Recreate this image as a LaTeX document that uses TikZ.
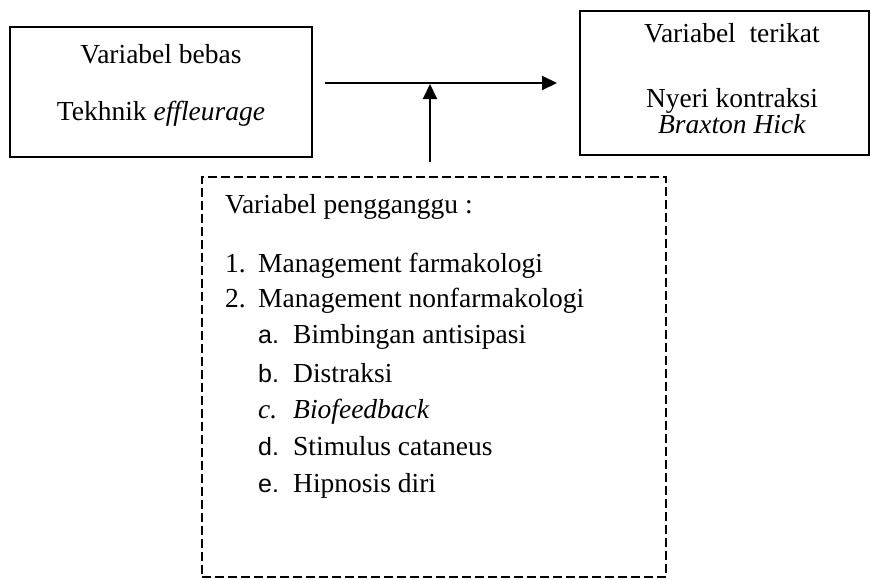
\documentclass[tikz,border=0pt]{standalone}
\usepackage{fontspec}
\setmainfont{Liberation Serif}
\newfontfamily\lblsans{Liberation Sans}
\usetikzlibrary{arrows.meta}
\tikzset{
  solidbox/.style={draw, line width=2pt, rectangle, inner sep=0pt},
  dashbox/.style={draw, line width=1.8pt, dash pattern=on 9pt off 4pt, rectangle, inner sep=0pt},
  txt/.style={inner sep=0pt, font=\fontsize{27.5}{32}\selectfont},
  ctxt/.style={txt, anchor=base},
  ltxt/.style={txt, anchor=base west},
  conn/.style={line width=2pt, -{Triangle[length=15pt,width=14pt]}},
}
\newcommand{\sansnum}[1]{{\lblsans\fontsize{25}{30}\selectfont #1}}
\begin{document}
\begin{tikzpicture}[x=1pt,y=-1pt]
\useasboundingbox (0,0) rectangle (871,579);
% boxes
\node[solidbox, minimum width=302pt, minimum height=130pt] (bebas) at (161,92) {};
\node[solidbox, minimum width=289pt, minimum height=144pt] (terikat) at (724.5,83) {};
\node[dashbox, minimum width=464pt, minimum height=400pt] (ganggu) at (434,377) {};
% box texts
\node[ctxt] (b1) at (161,63) {Variabel bebas};
\node[ctxt] (b2) at (161,120) {Tekhnik \textit{effleurage}};
\node[ctxt] (t1) at (732,42) {Variabel\ \ terikat};
\node[ctxt] (t2) at (732,107) {Nyeri kontraksi};
\node[ctxt] (t3) at (732,133) {\textit{Braxton Hick}};
% list
\node[ltxt] (g0) at (225,213) {Variabel pengganggu :};
\node[ltxt] (n1) at (225,272) {1.};
\node[ltxt] (i1) at (258,272) {Management farmakologi};
\node[ltxt] (n2) at (225,307) {2.};
\node[ltxt] (i2) at (258,307) {Management nonfarmakologi};
\node[ltxt] (na) at (258,343) {\sansnum{a.}};
\node[ltxt] (ia) at (293,343) {Bimbingan antisipasi};
\node[ltxt] (nb) at (258,382) {\sansnum{b.}};
\node[ltxt] (ib) at (293,382) {Distraksi};
\node[ltxt] (nc) at (258,418) {\textit{c.}};
\node[ltxt] (ic) at (293,418) {\textit{Biofeedback}};
\node[ltxt] (nd) at (258,455) {\sansnum{d.}};
\node[ltxt] (id) at (293,455) {Stimulus cataneus};
\node[ltxt] (ne) at (258,492) {\sansnum{e.}};
\node[ltxt] (ie) at (293,492) {Hipnosis diri};
% connectors
\coordinate (hs) at (325,83);
\coordinate (he) at (557,83);
\coordinate (vs) at (430,162);
\coordinate (ve) at (430,84);
\draw[conn] (hs) -- (he);
\draw[conn] (vs) -- (ve);
\end{tikzpicture}
\end{document}
